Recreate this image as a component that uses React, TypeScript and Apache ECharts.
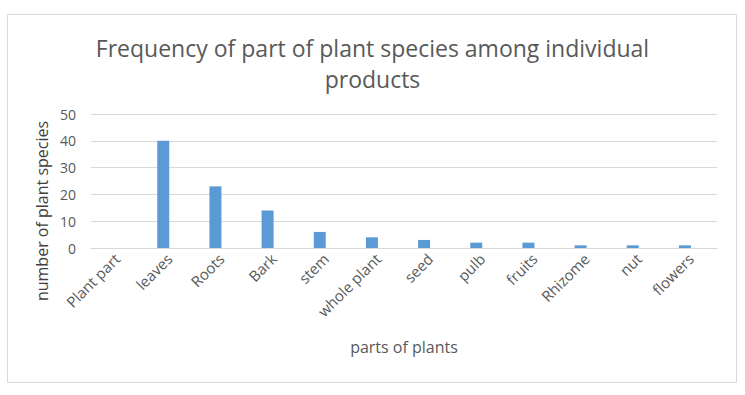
import React, { useEffect, useRef } from "react";
import * as echarts from "echarts";

const categories = ["Plant part", "leaves", "Roots", "Bark", "stem", "whole plant", "seed", "pulb", "fruits", "Rhizome", "nut", "flowers"];
const speciesCounts = [0, 40, 23, 14, 6, 4, 3, 2, 2, 1, 1, 1];
const emptySeries = [null, null, null, null, null, null, null, null, null, null, null, null];
const yTicks = [0, 10, 20, 30, 40, 50];

const FONT = "'Open Sans', 'Noto Sans', sans-serif";

export default function App() {
  const ref = useRef<HTMLDivElement>(null);
  useEffect(() => {
    if (!ref.current) return;
    const chart = echarts.init(ref.current, null, { renderer: "svg" });
    chart.setOption({
      animation: false,
      backgroundColor: "#ffffff",
      textStyle: { fontFamily: FONT },
      title: {
        text: "Frequency of part of plant species among individual\nproducts",
        left: "center",
        top: 27,
        textStyle: { fontFamily: FONT, fontSize: 23, fontWeight: "normal", color: "#595959", lineHeight: 31 },
      },
      graphic: [
        {
          type: "rect",
          shape: { x: 7.5, y: 14.5, width: 729, height: 368 },
          style: { fill: "none", stroke: "#d9d9d9", lineWidth: 1 },
          z: -1,
        },
        {
          type: "text",
          x: 42,
          y: 211,
          rotation: Math.PI / 2,
          style: {
            text: "number of plant species",
            fontFamily: FONT,
            fontSize: 16,
            fill: "#404040",
            align: "center",
            verticalAlign: "middle",
          },
        },
      ],
      grid: { left: 91, right: 28, top: 114, bottom: 147, containLabel: false },
      xAxis: {
        type: "category",
        data: categories,
        name: "parts of plants",
        nameLocation: "middle",
        nameGap: 91,
        nameTextStyle: { fontFamily: FONT, fontSize: 16, color: "#595959" },
        axisLine: { lineStyle: { color: "#d9d9d9" } },
        axisTick: { show: false },
        axisLabel: { rotate: 45, fontFamily: FONT, fontSize: 15, color: "#595959", margin: 8, interval: 0 },
      },
      yAxis: {
        type: "value",
        min: yTicks[0],
        max: yTicks[yTicks.length - 1],
        interval: 10,
        axisLine: { show: false },
        axisTick: { show: false },
        splitLine: { lineStyle: { color: "#d9d9d9" } },
        axisLabel: { fontFamily: FONT, fontSize: 14, color: "#595959", margin: 15 },
      },
      series: [
        {
          type: "bar",
          data: speciesCounts,
          barWidth: 12,
          barGap: "0%",
          itemStyle: { color: "#5b9bd5" },
        },
        {
          type: "bar",
          data: emptySeries,
          barWidth: 12,
          barGap: "0%",
          itemStyle: { color: "#ed7d31" },
        },
      ],
    });
    return () => chart.dispose();
  }, []);
  return <div ref={ref} style={{ position: "fixed", left: 0, top: 0, width: 745, height: 395 }} />;
}
